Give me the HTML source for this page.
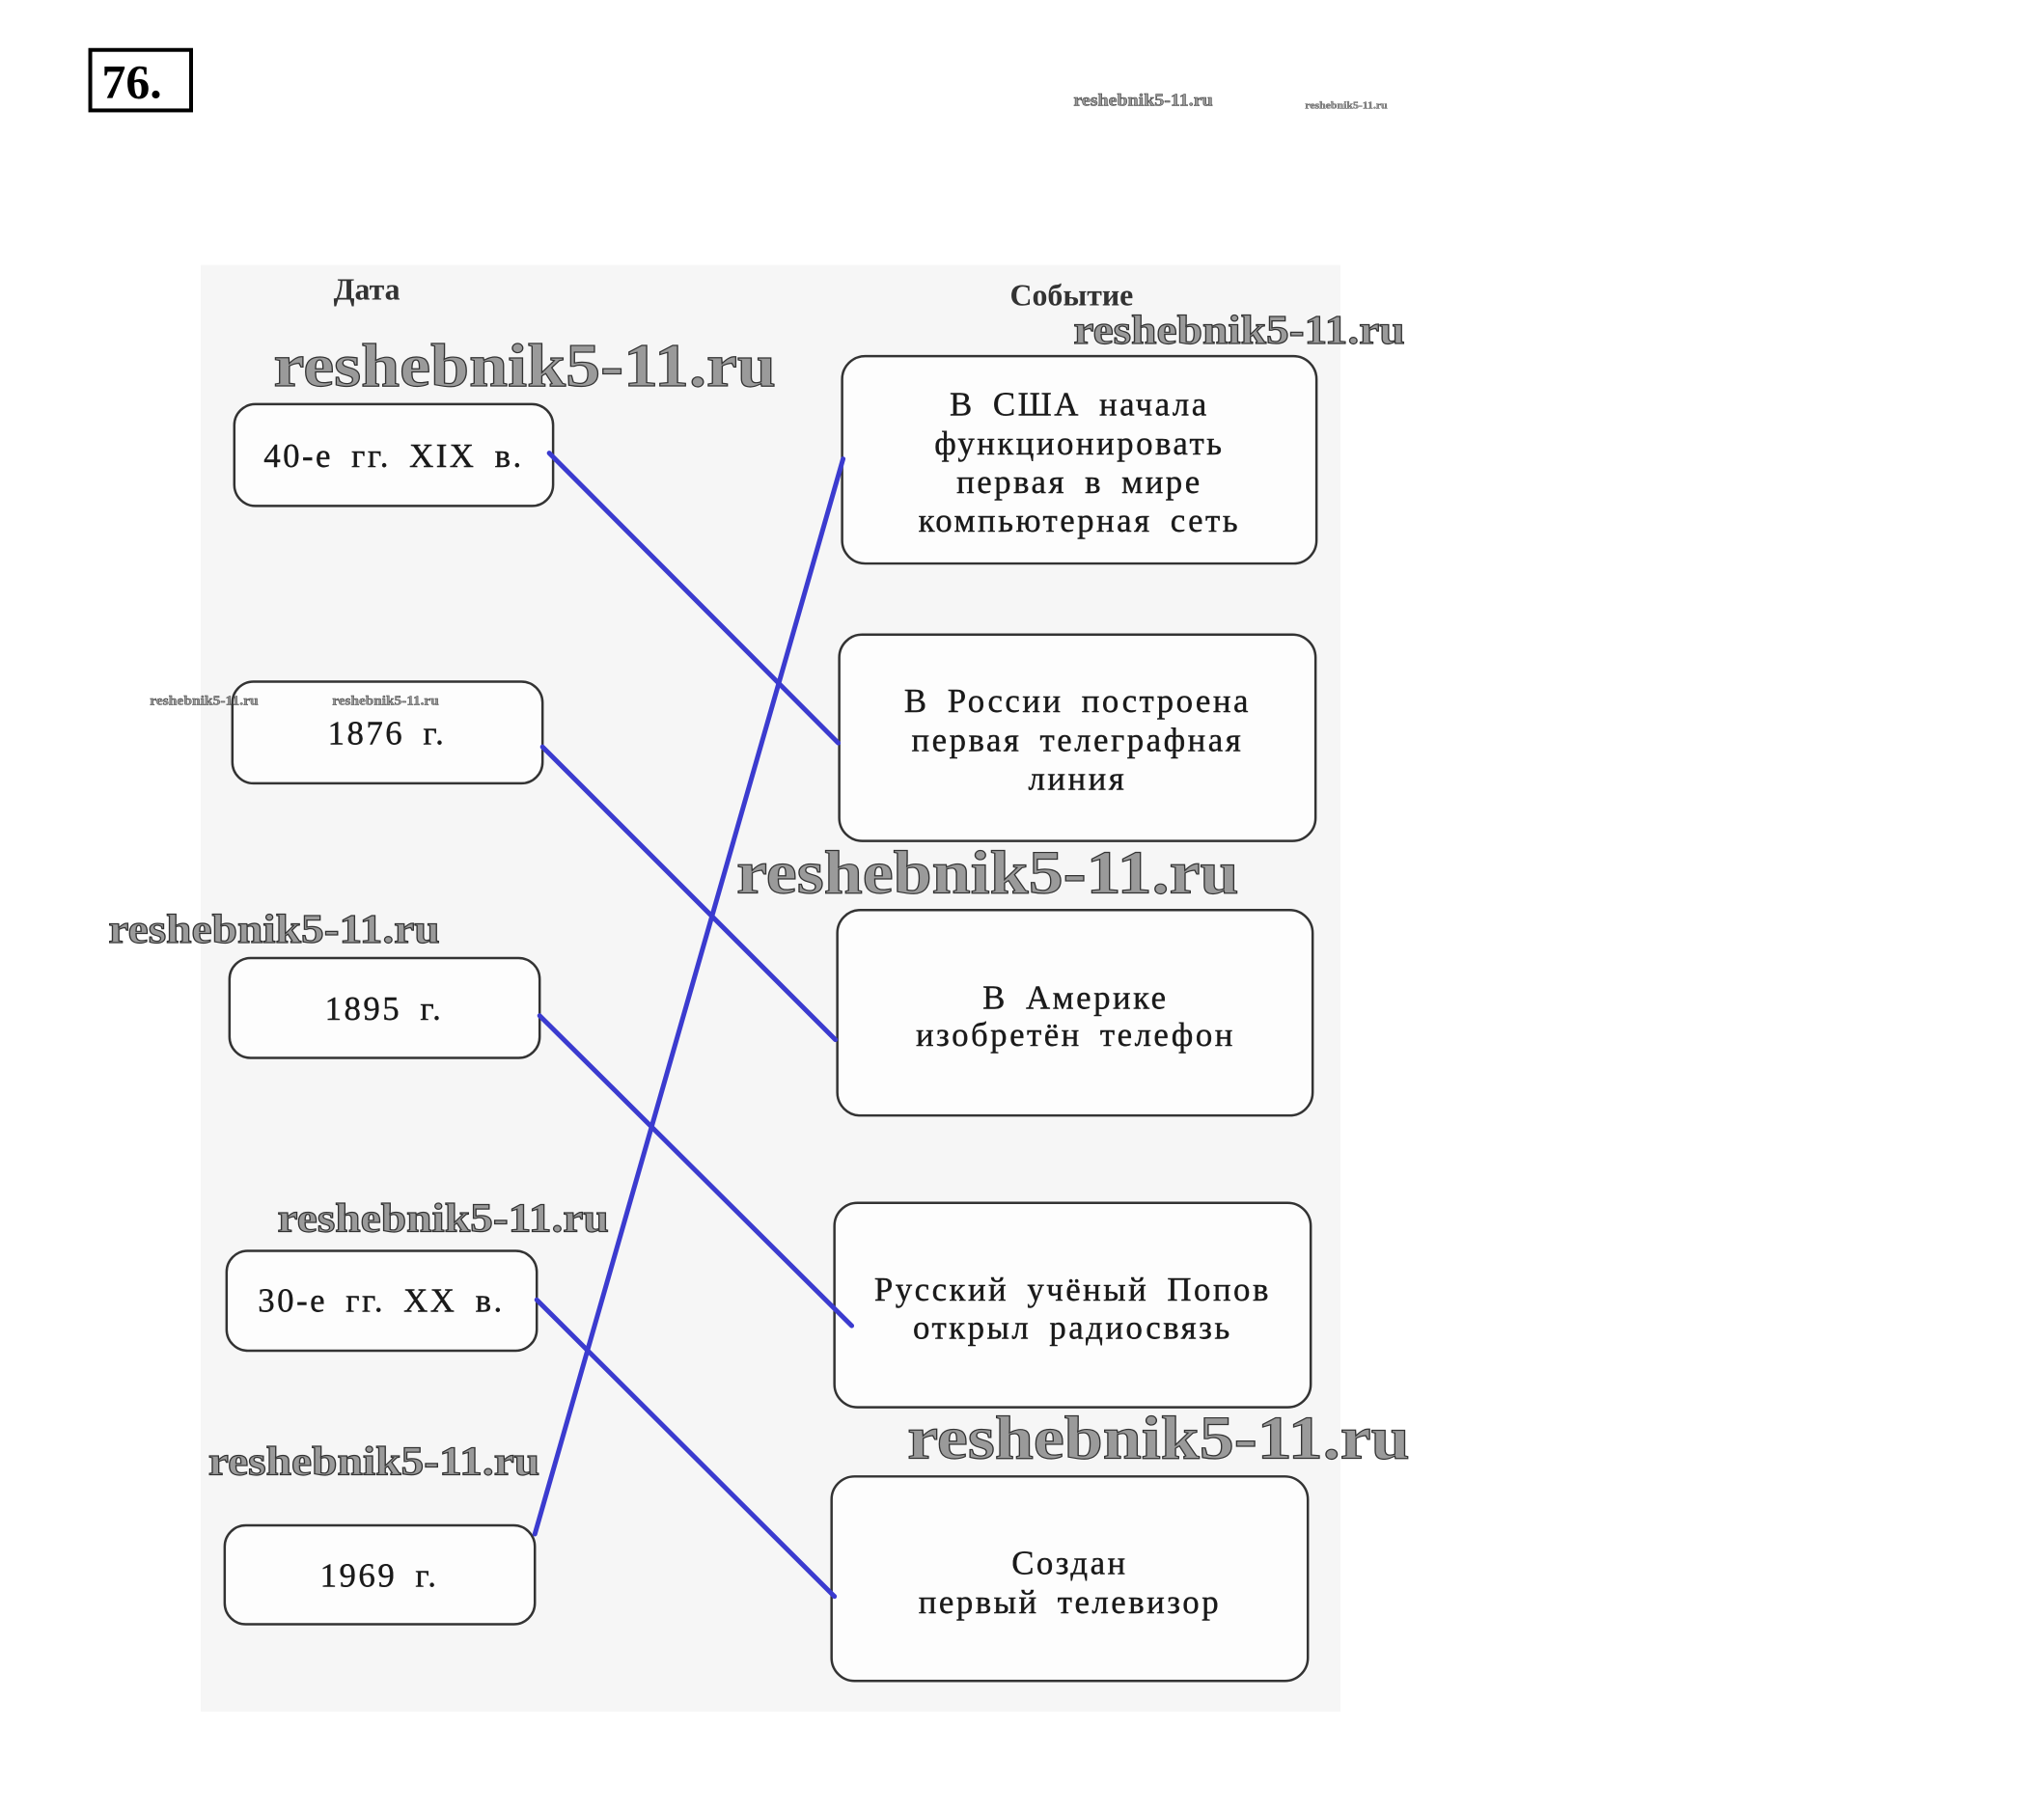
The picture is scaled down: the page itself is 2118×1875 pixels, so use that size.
<!DOCTYPE html>
<html><head><meta charset="utf-8"><style>
html,body{margin:0;padding:0;background:#fff;}
svg{display:block;}
.t{font-family:"Liberation Serif",serif;font-size:35px;fill:#1a1a1a;letter-spacing:2.5px;word-spacing:8px;stroke:#1a1a1a;stroke-width:0.4px;}
.w{font-family:"Liberation Serif",serif;font-weight:bold;fill:#9a9a9a;stroke:#333;stroke-width:1.2px;}
.b{fill:#fdfdfd;stroke:#333;stroke-width:2.5;}
.l{stroke:#3b3bcf;stroke-width:5;stroke-linecap:round;}
</style></head><body>
<svg width="2118" height="1875" viewBox="0 0 2118 1875" xmlns="http://www.w3.org/2000/svg">
<rect x="0" y="0" width="2118" height="1875" fill="#fff"/>
<g transform="scale(0.995)">
<rect x="94" y="52" width="105" height="63" fill="#fff" stroke="#000" stroke-width="4"/>
<text x="106" y="102" font-family="Liberation Serif,serif" font-weight="bold" font-size="50" fill="#000">76.</text>
<rect x="209" y="276" width="1187" height="1507" fill="#f6f6f6"/>
<text x="382" y="312" text-anchor="middle" font-family="Liberation Serif,serif" font-weight="bold" font-size="32" fill="#333">Дата</text>
<text x="1116" y="318" text-anchor="middle" font-family="Liberation Serif,serif" font-weight="bold" font-size="32" fill="#333">Событие</text>
<g>
<rect class="b" x="244" y="421" width="332" height="106" rx="22"/>
<rect class="b" x="242" y="710" width="323" height="106" rx="22"/>
<rect class="b" x="239" y="998" width="323" height="104" rx="22"/>
<rect class="b" x="236" y="1303" width="323" height="104" rx="22"/>
<rect class="b" x="234" y="1589" width="323" height="103" rx="22"/>
<rect class="b" x="877" y="371" width="494" height="216" rx="24"/>
<rect class="b" x="874" y="661" width="496" height="215" rx="24"/>
<rect class="b" x="872" y="948" width="495" height="214" rx="24"/>
<rect class="b" x="869" y="1253" width="496" height="213" rx="24"/>
<rect class="b" x="866" y="1538" width="496" height="213" rx="24"/>
</g>
<g class="t" text-anchor="middle" dominant-baseline="central">
<text x="410" y="475">40-е гг. XIX в.</text>
<text x="403" y="764">1876 г.</text>
<text x="400" y="1051">1895 г.</text>
<text x="397" y="1355">30-е гг. XX в.</text>
<text x="395" y="1641">1969 г.</text>
<text x="1124" y="421">В США начала</text>
<text x="1124" y="462">функционировать</text>
<text x="1124" y="502">первая в мире</text>
<text x="1124" y="542">компьютерная сеть</text>
<text x="1122" y="730">В России построена</text>
<text x="1122" y="771">первая телеграфная</text>
<text x="1122" y="811">линия</text>
<text x="1120" y="1039">В Америке</text>
<text x="1120" y="1078">изобретён телефон</text>
<text x="1117" y="1343">Русский учёный Попов</text>
<text x="1117" y="1383">открыл радиосвязь</text>
<text x="1114" y="1628">Создан</text>
<text x="1114" y="1669">первый телевизор</text>
</g>
<g>
<line class="l" x1="572" y1="472" x2="873" y2="774"/>
<line class="l" x1="565" y1="778" x2="870" y2="1083"/>
<line class="l" x1="562" y1="1058" x2="887" y2="1381"/>
<line class="l" x1="559" y1="1354" x2="869" y2="1663"/>
<line class="l" x1="557" y1="1598" x2="878" y2="478"/>
</g>
<g class="w">
<text x="285" y="402" font-size="64" textLength="523" lengthAdjust="spacingAndGlyphs">reshebnik5-11.ru</text>
<text x="1118" y="358" font-size="42" textLength="345" lengthAdjust="spacingAndGlyphs">reshebnik5-11.ru</text>
<text x="767" y="930" font-size="64" textLength="523" lengthAdjust="spacingAndGlyphs">reshebnik5-11.ru</text>
<text x="113" y="982" font-size="42" textLength="345" lengthAdjust="spacingAndGlyphs">reshebnik5-11.ru</text>
<text x="289" y="1283" font-size="42" textLength="345" lengthAdjust="spacingAndGlyphs">reshebnik5-11.ru</text>
<text x="217" y="1536" font-size="42" textLength="345" lengthAdjust="spacingAndGlyphs">reshebnik5-11.ru</text>
<text x="945" y="1519" font-size="64" textLength="523" lengthAdjust="spacingAndGlyphs">reshebnik5-11.ru</text>
<text x="1118" y="110" font-size="18" stroke-width="0.5" textLength="145" lengthAdjust="spacingAndGlyphs">reshebnik5-11.ru</text>
<text x="1359" y="113" font-size="10" stroke-width="0.3" textLength="86" lengthAdjust="spacingAndGlyphs">reshebnik5-11.ru</text>
<text x="156" y="734" font-size="14" stroke-width="0.4" textLength="113" lengthAdjust="spacingAndGlyphs">reshebnik5-11.ru</text>
<text x="346" y="734" font-size="14" stroke-width="0.4" textLength="111" lengthAdjust="spacingAndGlyphs">reshebnik5-11.ru</text>
</g>
</g>
</svg>
</body></html>
